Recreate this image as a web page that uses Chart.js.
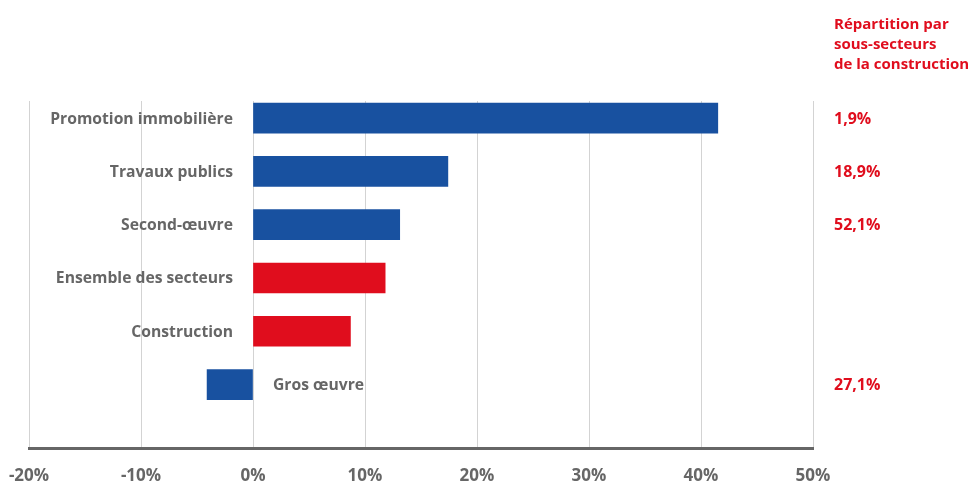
<!DOCTYPE html>
<html>
<head>
<meta charset="utf-8">
<script src="https://cdn.jsdelivr.net/npm/chart.js@4/dist/chart.umd.min.js"></script>
<style>
  html,body{margin:0;padding:0;background:#fff;}
  #wrap{width:973px;height:481px;position:relative;}
</style>
</head>
<body>
<div id="wrap"><canvas id="myChart" width="973" height="481"></canvas></div>
<script>
// data
let categories=["Promotion immobilière","Travaux publics","Second-œuvre","Ensemble des secteurs","Construction","Gros œuvre"];
let growth=[41.5,17.4,13.1,11.8,8.7,-4.1];
let shares=["1,9%","18,9%","52,1%","","","27,1%"];
let xTicks=[-20,-10,0,10,20,30,40,50];
let sideTitle=["Répartition par","sous-secteurs","de la construction"];

let blue="#1851a0";
let red="#e00d1d";
let grey="#666666";
let font="'Open Sans', 'Noto Sans', sans-serif";
let isTotal=[false,false,false,true,true,false];

let labelsPlugin={
    id:'labelsPlugin',
    afterDatasetsDraw(chart){
        let ctx=chart.ctx;
        let xs=chart.scales.x, ys=chart.scales.y;
        let x0=xs.getPixelForValue(0);
        ctx.save();
        ctx.textBaseline='middle';
        ctx.font="bold 15.7px "+font;
        ctx.fillStyle=grey;
        categories.forEach((c,i)=>{
            let y=ys.getPixelForValue(i);
            if(growth[i]>=0){
                ctx.textAlign='right';
                ctx.fillText(c,x0-20,y+1);
            }else{
                ctx.textAlign='left';
                ctx.fillText(c,x0+20,y+1);
            }
        });
        ctx.textAlign='left';
        ctx.fillStyle=red;
        ctx.font="bold 16px "+font;
        let rx=chart.chartArea.right+21;
        shares.forEach((s,i)=>{
            if(s) ctx.fillText(s,rx,ys.getPixelForValue(i)+1);
        });
        ctx.textBaseline='alphabetic';
        ctx.font="bold 15px "+font;
        sideTitle.forEach((t,i)=>{
            ctx.fillText(t,rx,29+i*20);
        });
        ctx.restore();
    }
};

const ctx=document.getElementById('myChart').getContext('2d');
const myChart=new Chart(ctx,{
    type:'bar',
    data:{
        datasets:[{
            data:growth.map((v,i)=>({x:v,y:i})),
            backgroundColor:isTotal.map(t=>t?red:blue),
            barThickness:30,
            borderWidth:0
        }]
    },
    options:{
        indexAxis:'y',
        responsive:false,
        animation:false,
        layout:{padding:{left:29,right:160,top:101,bottom:0}},
        plugins:{legend:{display:false},tooltip:{enabled:false}},
        scales:{
            x:{
                type:'linear',
                min:-20,max:50,
                afterBuildTicks:s=>{s.ticks=xTicks.map(v=>({value:v}));},
                afterFit:s=>{s.height=33;s.paddingLeft=0;s.paddingRight=0;},
                grid:{color:'#d3d3d3',lineWidth:1,drawTicks:false},
                border:{display:true,color:grey,width:3},
                ticks:{
                    callback:v=>v+'%',
                    color:grey,
                    font:{family:font,size:17,weight:'bold'},
                    padding:18,
                    maxRotation:0
                }
            },
            y:{
                type:'linear',
                display:false,
                reverse:true,
                offset:false,
                bounds:'data',
                min:-0.32,max:6.19,
                afterDataLimits:s=>{s.min=-0.32;s.max=6.19;},
                grid:{display:false}
            }
        }
    },
    plugins:[labelsPlugin]
});
</script>
</body>
</html>
